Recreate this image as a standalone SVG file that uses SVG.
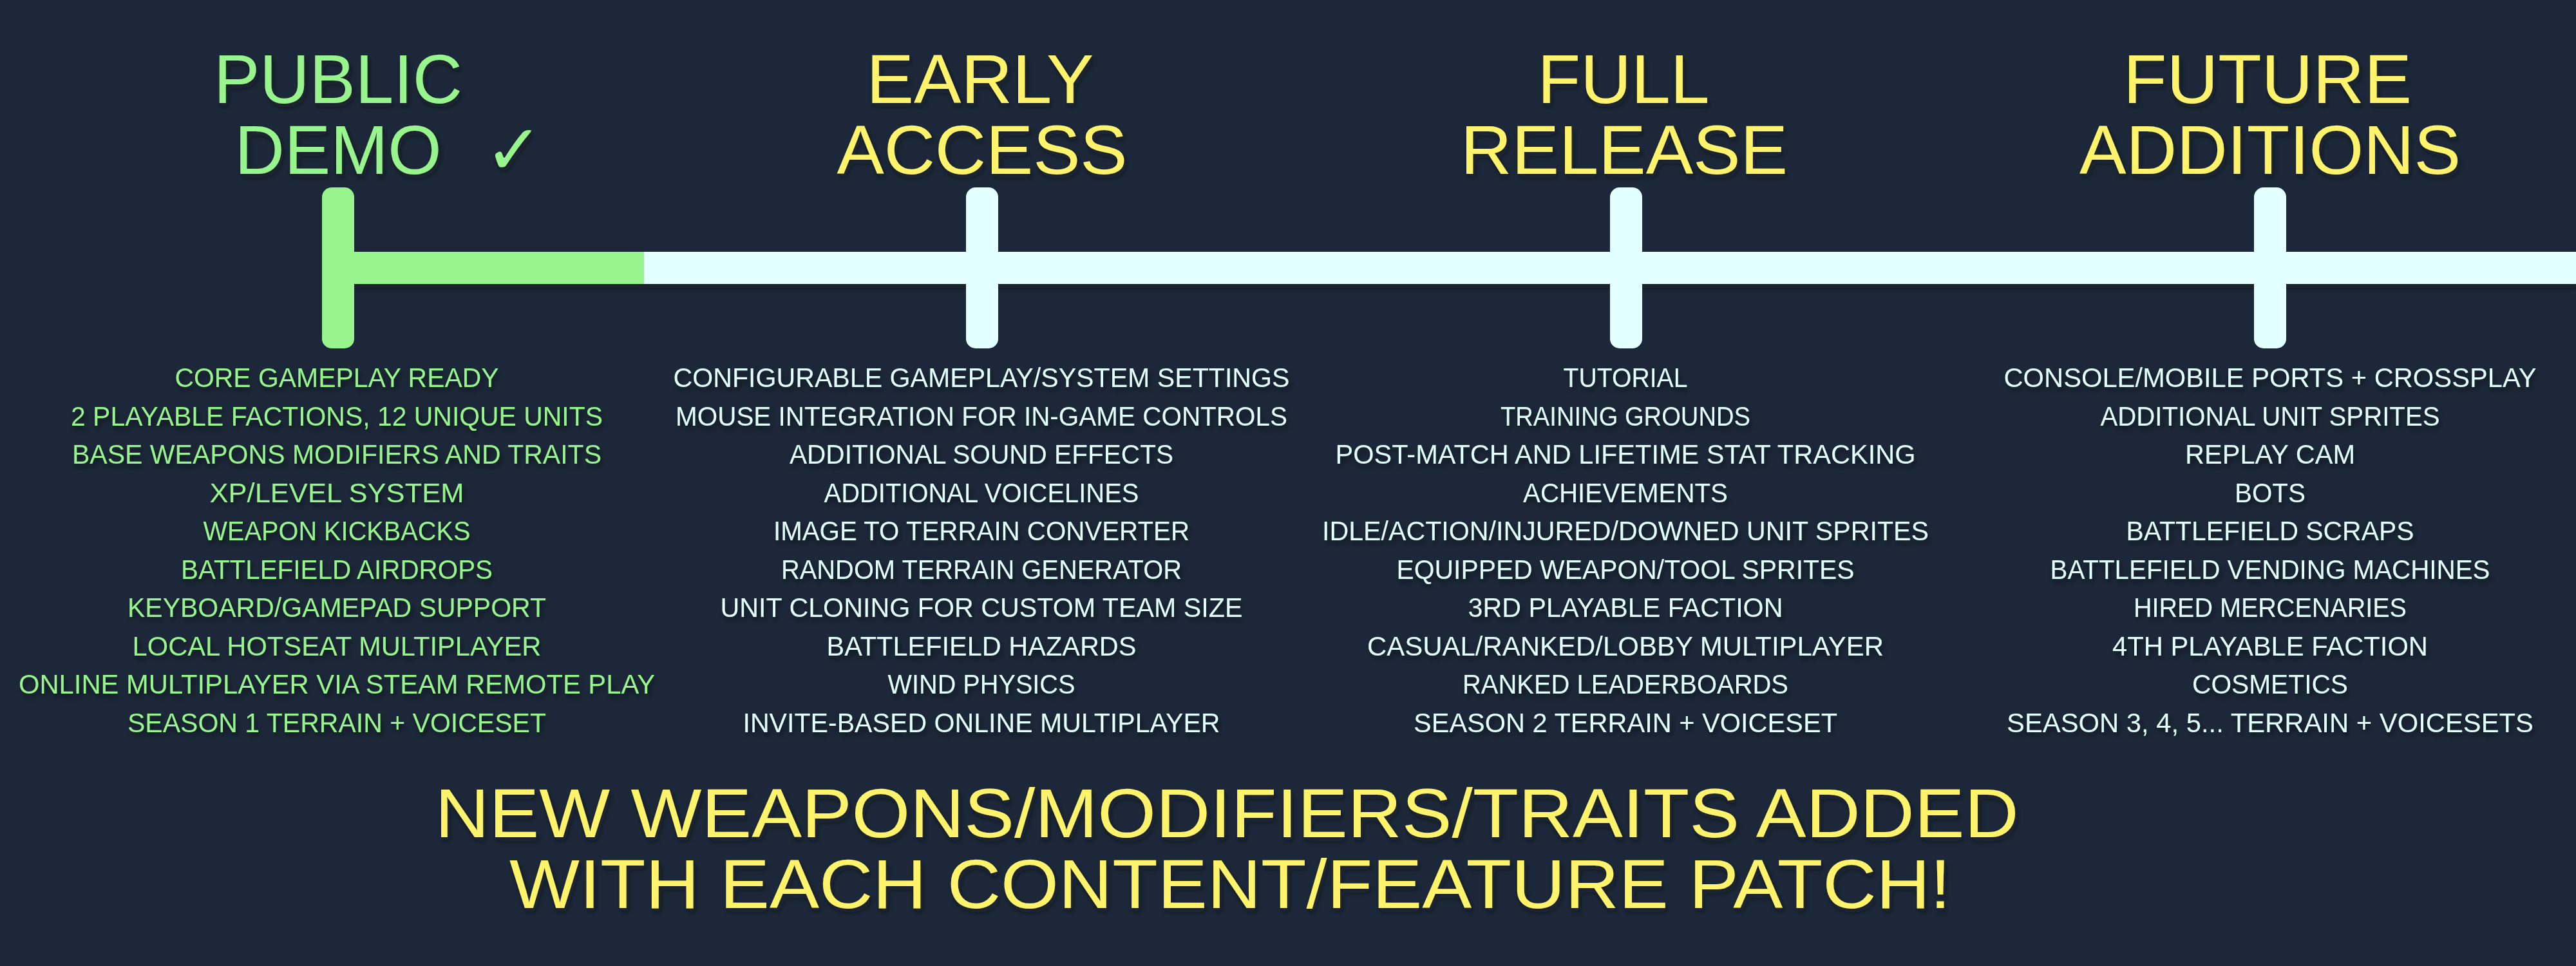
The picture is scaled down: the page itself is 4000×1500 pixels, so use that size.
<svg xmlns="http://www.w3.org/2000/svg" width="4000" height="1500" viewBox="0 0 4000 1500">
<defs>
<filter id="sh" x="-5%" y="-20%" width="110%" height="150%">
<feDropShadow dx="3" dy="6" stdDeviation="4" flood-color="#0a1018" flood-opacity="0.55"/>
</filter>
</defs>
<style>
.bg{fill:#1c2839}
.g{fill:#98f48c}
.w{fill:#e3ffff}
.y{fill:#fff36c}
.head{font-family:"Liberation Sans",Arial,sans-serif;font-size:108px;text-anchor:middle;filter:url(#sh)}
.item{font-family:"Liberation Sans",Arial,sans-serif;font-size:43px;text-anchor:middle;filter:url(#sh)}
.foot{font-family:"Liberation Sans",Arial,sans-serif;font-size:108px;text-anchor:middle;filter:url(#sh)}
</style>
<rect class="bg" x="0" y="0" width="4000" height="1500"/>

<g id="connectors">
<g filter="url(#sh)">
<rect class="w" x="1000" y="391" width="3000" height="50"/>
<rect class="g" x="525" y="391" width="475" height="50"/>
</g>
</g>

<g id="public-demo">
<rect class="g" x="500" y="291" width="50" height="250" rx="15"/>
<text class="head g" x="525" y="160" textLength="386" lengthAdjust="spacingAndGlyphs">PUBLIC</text>
<text class="head g" y="270"><tspan x="525" textLength="321" lengthAdjust="spacingAndGlyphs">DEMO</tspan><tspan x="798" font-family="DejaVu Sans,sans-serif">✓</tspan></text>
<g class="item g">
<text x="523" y="601" textLength="503" lengthAdjust="spacingAndGlyphs">CORE GAMEPLAY READY</text>
<text x="523" y="661" textLength="826" lengthAdjust="spacingAndGlyphs">2 PLAYABLE FACTIONS, 12 UNIQUE UNITS</text>
<text x="523" y="720" textLength="822" lengthAdjust="spacingAndGlyphs">BASE WEAPONS MODIFIERS AND TRAITS</text>
<text x="523" y="780" textLength="395" lengthAdjust="spacingAndGlyphs">XP/LEVEL SYSTEM</text>
<text x="523" y="839" textLength="415" lengthAdjust="spacingAndGlyphs">WEAPON KICKBACKS</text>
<text x="523" y="899" textLength="484" lengthAdjust="spacingAndGlyphs">BATTLEFIELD AIRDROPS</text>
<text x="523" y="958" textLength="650" lengthAdjust="spacingAndGlyphs">KEYBOARD/GAMEPAD SUPPORT</text>
<text x="523" y="1018" textLength="635" lengthAdjust="spacingAndGlyphs">LOCAL HOTSEAT MULTIPLAYER</text>
<text x="523" y="1077" textLength="988" lengthAdjust="spacingAndGlyphs">ONLINE MULTIPLAYER VIA STEAM REMOTE PLAY</text>
<text x="523" y="1137" textLength="650" lengthAdjust="spacingAndGlyphs">SEASON 1 TERRAIN + VOICESET</text>
</g>
</g>

<g id="early-access">
<rect class="w" x="1500" y="291" width="50" height="250" rx="15"/>
<text class="head y" x="1522" y="160" textLength="353" lengthAdjust="spacingAndGlyphs">EARLY</text>
<text class="head y" x="1525" y="270" textLength="451" lengthAdjust="spacingAndGlyphs">ACCESS</text>
<g class="item w">
<text x="1524" y="601" textLength="957" lengthAdjust="spacingAndGlyphs">CONFIGURABLE GAMEPLAY/SYSTEM SETTINGS</text>
<text x="1524" y="661" textLength="950" lengthAdjust="spacingAndGlyphs">MOUSE INTEGRATION FOR IN-GAME CONTROLS</text>
<text x="1524" y="720" textLength="596" lengthAdjust="spacingAndGlyphs">ADDITIONAL SOUND EFFECTS</text>
<text x="1524" y="780" textLength="489" lengthAdjust="spacingAndGlyphs">ADDITIONAL VOICELINES</text>
<text x="1524" y="839" textLength="646" lengthAdjust="spacingAndGlyphs">IMAGE TO TERRAIN CONVERTER</text>
<text x="1524" y="899" textLength="622" lengthAdjust="spacingAndGlyphs">RANDOM TERRAIN GENERATOR</text>
<text x="1524" y="958" textLength="811" lengthAdjust="spacingAndGlyphs">UNIT CLONING FOR CUSTOM TEAM SIZE</text>
<text x="1524" y="1018" textLength="481" lengthAdjust="spacingAndGlyphs">BATTLEFIELD HAZARDS</text>
<text x="1524" y="1077" textLength="291" lengthAdjust="spacingAndGlyphs">WIND PHYSICS</text>
<text x="1524" y="1137" textLength="741" lengthAdjust="spacingAndGlyphs">INVITE-BASED ONLINE MULTIPLAYER</text>
</g>
</g>

<g id="full-release">
<rect class="w" x="2500" y="291" width="50" height="250" rx="15"/>
<text class="head y" x="2521" y="160" textLength="267" lengthAdjust="spacingAndGlyphs">FULL</text>
<text class="head y" x="2522" y="270" textLength="508" lengthAdjust="spacingAndGlyphs">RELEASE</text>
<g class="item w">
<text x="2524" y="601" textLength="193" lengthAdjust="spacingAndGlyphs">TUTORIAL</text>
<text x="2524" y="661" textLength="388" lengthAdjust="spacingAndGlyphs">TRAINING GROUNDS</text>
<text x="2524" y="720" textLength="901" lengthAdjust="spacingAndGlyphs">POST-MATCH AND LIFETIME STAT TRACKING</text>
<text x="2524" y="780" textLength="318" lengthAdjust="spacingAndGlyphs">ACHIEVEMENTS</text>
<text x="2524" y="839" textLength="942" lengthAdjust="spacingAndGlyphs">IDLE/ACTION/INJURED/DOWNED UNIT SPRITES</text>
<text x="2524" y="899" textLength="711" lengthAdjust="spacingAndGlyphs">EQUIPPED WEAPON/TOOL SPRITES</text>
<text x="2524" y="958" textLength="489" lengthAdjust="spacingAndGlyphs">3RD PLAYABLE FACTION</text>
<text x="2524" y="1018" textLength="802" lengthAdjust="spacingAndGlyphs">CASUAL/RANKED/LOBBY MULTIPLAYER</text>
<text x="2524" y="1077" textLength="506" lengthAdjust="spacingAndGlyphs">RANKED LEADERBOARDS</text>
<text x="2524" y="1137" textLength="658" lengthAdjust="spacingAndGlyphs">SEASON 2 TERRAIN + VOICESET</text>
</g>
</g>

<g id="future-additions">
<rect class="w" x="3500" y="291" width="50" height="250" rx="15"/>
<text class="head y" x="3521" y="160" textLength="448" lengthAdjust="spacingAndGlyphs">FUTURE</text>
<text class="head y" x="3525" y="270" textLength="592" lengthAdjust="spacingAndGlyphs">ADDITIONS</text>
<g class="item w">
<text x="3525" y="601" textLength="827" lengthAdjust="spacingAndGlyphs">CONSOLE/MOBILE PORTS + CROSSPLAY</text>
<text x="3525" y="661" textLength="527" lengthAdjust="spacingAndGlyphs">ADDITIONAL UNIT SPRITES</text>
<text x="3525" y="720" textLength="264" lengthAdjust="spacingAndGlyphs">REPLAY CAM</text>
<text x="3525" y="780" textLength="110" lengthAdjust="spacingAndGlyphs">BOTS</text>
<text x="3525" y="839" textLength="447" lengthAdjust="spacingAndGlyphs">BATTLEFIELD SCRAPS</text>
<text x="3525" y="899" textLength="683" lengthAdjust="spacingAndGlyphs">BATTLEFIELD VENDING MACHINES</text>
<text x="3525" y="958" textLength="424" lengthAdjust="spacingAndGlyphs">HIRED MERCENARIES</text>
<text x="3525" y="1018" textLength="490" lengthAdjust="spacingAndGlyphs">4TH PLAYABLE FACTION</text>
<text x="3525" y="1077" textLength="242" lengthAdjust="spacingAndGlyphs">COSMETICS</text>
<text x="3525" y="1137" textLength="818" lengthAdjust="spacingAndGlyphs">SEASON 3, 4, 5... TERRAIN + VOICESETS</text>
</g>
</g>

<g id="footer">
<text class="foot y" x="1905" y="1300" textLength="2459" lengthAdjust="spacingAndGlyphs">NEW WEAPONS/MODIFIERS/TRAITS ADDED</text>
<text class="foot y" x="1910" y="1410" textLength="2238" lengthAdjust="spacingAndGlyphs">WITH EACH CONTENT/FEATURE PATCH!</text>
</g>
</svg>
